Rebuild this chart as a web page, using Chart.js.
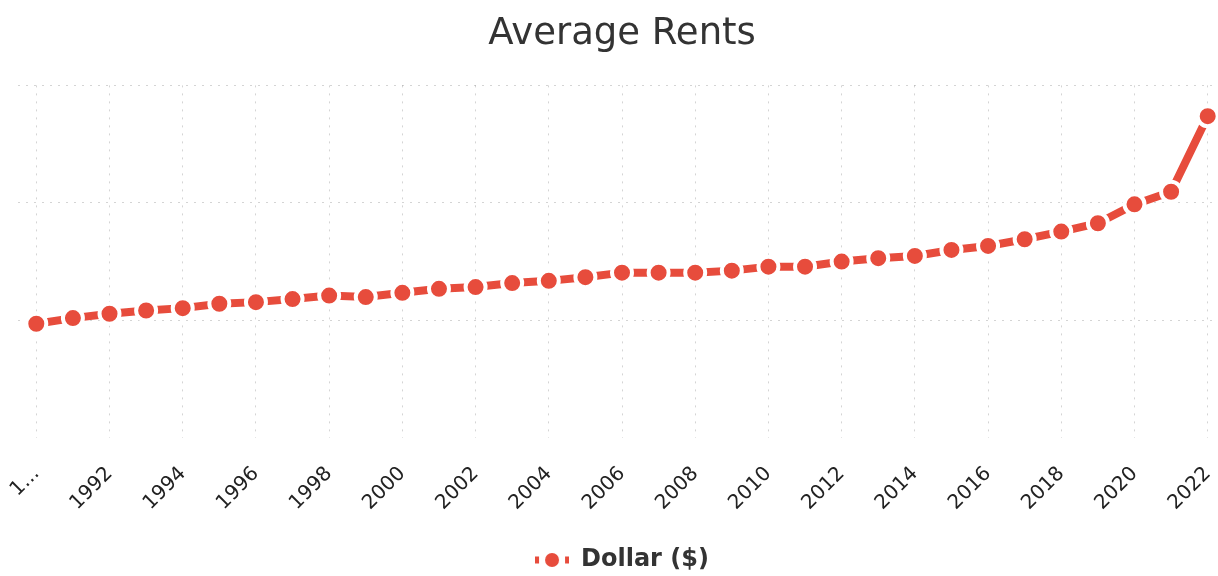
<!DOCTYPE html>
<html>
<head>
<meta charset="utf-8">
<script src="https://cdn.jsdelivr.net/npm/chart.js@4"></script>
<style>
  html, body { margin: 0; padding: 0; background: #fff; overflow: hidden; }
  /* the plot runs a little past the right edge of the window, like the original */
  #wrap { width: 1248px; height: 576px; }
</style>
</head>
<body>
<div id="wrap"><canvas id="rentChart"></canvas></div>
<script>
// data
const years = ['1990', '1991', '1992', '1993', '1994', '1995', '1996', '1997', '1998', '1999',
  '2000', '2001', '2002', '2003', '2004', '2005', '2006', '2007', '2008', '2009',
  '2010', '2011', '2012', '2013', '2014', '2015', '2016', '2017', '2018', '2019',
  '2020', '2021', '2022'];
const rents = [972, 1020, 1057, 1085, 1105, 1142, 1156, 1182, 1212, 1199,
  1235, 1269, 1284, 1318, 1337, 1368, 1407, 1407, 1407, 1424,
  1458, 1458, 1501, 1530, 1549, 1600, 1634, 1691, 1756, 1827,
  1988, 2095, 2738];
const yTicks = [0, 1000, 2000, 3000];

const red = '#e74c3c';
const gridColor = 'rgba(0,0,0,0.17)';

// little "line through a dot" legend marker
const icon = document.createElement('canvas');
icon.width = 34; icon.height = 18;
(function () {
  const c = icon.getContext('2d');
  c.fillStyle = red;
  c.fillRect(0, 5.5, 4, 7);
  c.fillRect(30, 5.5, 4, 7);
  c.beginPath();
  c.arc(17, 9, 7, 0, Math.PI * 2);
  c.fill();
})();

new Chart(document.getElementById('rentChart'), {
  type: 'line',
  data: {
    labels: years,
    datasets: [{
      label: 'Dollar ($)',
      data: rents,
      borderColor: red,
      backgroundColor: red,
      borderWidth: 8,
      pointRadius: 10,
      pointBorderWidth: 4,
      pointBackgroundColor: red,
      pointBorderColor: '#fff',
      tension: 0
    }]
  },
  options: {
    responsive: true,
    maintainAspectRatio: false,
    animation: false,
    layout: { padding: { left: 18, right: 22, bottom: -6 } },
    plugins: {
      title: {
        display: true,
        text: 'Average Rents',
        color: '#333',
        font: { family: 'DejaVu Sans', size: 37, weight: 'normal' },
        padding: { top: 12, bottom: 29 }
      },
      legend: {
        position: 'bottom',
        labels: {
          usePointStyle: true,
          pointStyle: icon,
          pointStyleWidth: 34,
          color: '#333',
          font: { family: 'DejaVu Sans', size: 24, weight: 'bold' },
          padding: 4
        }
      },
      tooltip: { enabled: false }
    },
    scales: {
      x: {
        offset: true,
        afterFit: (scale) => { scale.height = 106; },
        grid: { color: gridColor, lineWidth: 1, tickLength: 21, tickColor: 'rgba(0,0,0,0)', offset: false },
        border: { display: false, dash: [2, 6] },
        ticks: {
          color: '#222',
          font: { family: 'DejaVu Sans', size: 20 },
          padding: 3,
          maxRotation: 45,
          minRotation: 45,
          maxTicksLimit: 17,
          callback: function (val, i) {
            const s = this.getLabelForValue(val);
            return i === 0 ? s.charAt(0) + '...' : s;
          }
        }
      },
      y: {
        min: yTicks[0],
        max: yTicks[yTicks.length - 1],
        afterBuildTicks: (axis) => { axis.ticks = yTicks.map(v => ({ value: v })); },
        grid: {
          color: (ctx) => (ctx.tick && ctx.tick.value === 0 ? 'rgba(0,0,0,0)' : gridColor),
          lineWidth: 1,
          drawTicks: false
        },
        border: { display: false, dash: [2, 6] },
        ticks: { display: false }
      }
    }
  }
});
</script>
</body>
</html>
